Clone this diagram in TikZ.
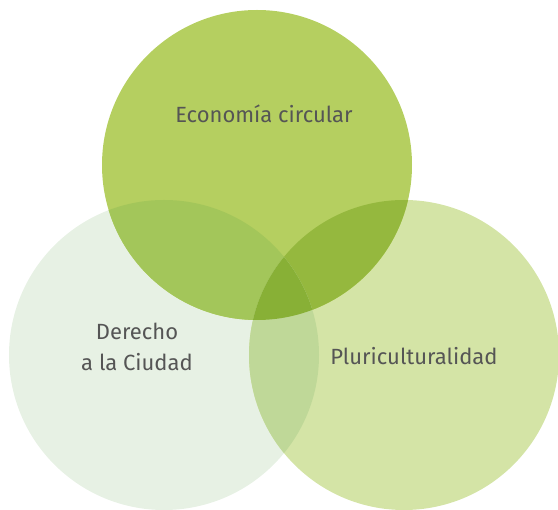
\documentclass[tikz,border=0pt]{standalone}
\usepackage{fontspec}
\setmainfont{Fira Sans}
\definecolor{cTop}{HTML}{B5CF60}
\definecolor{cLeft}{HTML}{E7F1E4}
\definecolor{cRight}{HTML}{D4E4A6}
\definecolor{cTL}{HTML}{A3C65A}
\definecolor{cTR}{HTML}{95B83E}
\definecolor{cLR}{HTML}{BFD898}
\definecolor{cAll}{HTML}{88B036}
\definecolor{txt}{HTML}{555555}
\tikzset{lbl/.style={text=txt,font=\fontsize{22}{31}\selectfont,align=center,inner sep=0pt}}
\begin{document}
\begin{tikzpicture}[x=1pt,y=-1pt]
\useasboundingbox (0,0) rectangle (558,510);
\begin{scope}
\clip (0,0) rectangle (558,510);
\coordinate (T) at (257,165);
\coordinate (L) at (164,355);
\coordinate (R) at (404,355);
\def\rr{155}
\fill[cLeft] (L) circle[radius=\rr];
\fill[cRight] (R) circle[radius=\rr];
\fill[cTop] (T) circle[radius=\rr];
\begin{scope}\clip (T) circle[radius=\rr]; \fill[cTL] (L) circle[radius=\rr];\end{scope}
\begin{scope}\clip (T) circle[radius=\rr]; \fill[cTR] (R) circle[radius=\rr];\end{scope}
\begin{scope}\clip (L) circle[radius=\rr]; \fill[cLR] (R) circle[radius=\rr];\end{scope}
\begin{scope}\clip (L) circle[radius=\rr]; \clip (R) circle[radius=\rr]; \fill[cAll] (T) circle[radius=\rr];\end{scope}
\end{scope}
\node[lbl] (econ) at (264,114) {Economía circular};
\node[lbl] (der) at (137,347) {Derecho\\a la Ciudad};
\node[lbl] (plu) at (414,356) {Pluriculturalidad};
\end{tikzpicture}
\end{document}
